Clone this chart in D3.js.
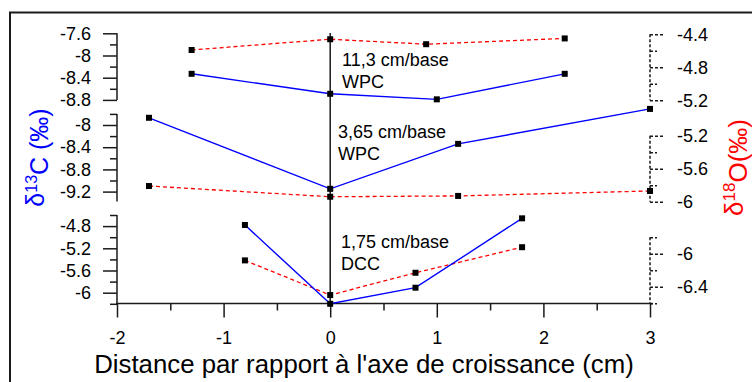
<!DOCTYPE html>
<html><head><meta charset="utf-8">
<script src="https://cdn.jsdelivr.net/npm/d3@7"></script>
<style>body{margin:0;background:#fff}svg{display:block}text{font-family:"Liberation Sans",Arial,sans-serif}</style>
</head><body>
<svg id="c" width="752" height="382"></svg>
<script>
// ---- data ----
const xTicks = [-2, -1, 0, 1, 2, 3];
// panel 1 : 11,3 cm/base WPC
const topXC = [-1.3, 0, 1, 2.2];
const topC  = [-8.33, -8.69, -8.79, -8.33];
const topXO = [-1.3, 0, 0.9, 2.2];
const topO  = [-4.59, -4.46, -4.52, -4.45];
// panel 2 : 3,65 cm/base WPC
const midX  = [-1.7, 0, 1.2, 3];
const midC  = [-7.87, -9.15, -8.34, -7.71];
const midO  = [-5.81, -5.94, -5.93, -5.87];
// panel 3 : 1,75 cm/base DCC
const botX  = [-0.8, 0, 0.8, 1.8];
const botC  = [-4.78, -6.2, -5.91, -4.66];
const botO  = [-6.08, -6.50, -6.23, -5.92];
// axis ticks
const topCMajor = [-7.6, -8, -8.4, -8.8], topCMinor = [-7.8, -8.2, -8.6];
const midCMajor = [-8, -8.4, -8.8, -9.2], midCMinor = [-7.8, -8.2, -8.6, -9.0];
const botCMajor = [-4.8, -5.2, -5.6, -6], botCMinor = [-4.6, -5.0, -5.4, -5.8, -6.2];
const topOMajor = [-4.4, -4.8, -5.2], topOMinor = [-4.6, -5.0];
const midOMajor = [-5.2, -5.6, -6], midOMinor = [-5.4, -5.8];
const botOMajor = [-6, -6.4], botOMinor = [-5.8, -6.2, -6.6];
const labels = [["11,3 cm/base", "WPC"], ["3,65 cm/base", "WPC"], ["1,75 cm/base", "DCC"]];

const svg = d3.select("#c");
const X0 = 117, X1 = 650, AXY = 303.5;
const x = d3.scaleLinear().domain([-2, 3]).range([X0, X1]);
const CU = 55.5, OU = 82.5; // px per permil
function cScale(top, topPx){ return d3.scaleLinear().domain([top, top - 1]).range([topPx, topPx + CU]); }
function oScale(top, topPx){ return d3.scaleLinear().domain([top, top - 1]).range([topPx, topPx + OU]); }
const panels = [
  {c: cScale(-7.6, 33.3), o: oScale(-4.4, 34.3), cRange:[-7.6,-8.8], oRange:[-4.4,-5.2],
   cMaj: topCMajor, cMin: topCMinor, oMaj: topOMajor, oMin: topOMinor,
   xc: topXC, vc: topC, xo: topXO, vo: topO, lab: labels[0], lx: 342, ly: 66},
  {c: cScale(-8, 125), o: oScale(-5.2, 135.7), cRange:[-7.8,-9.38], oRange:[-5.2,-6.0],
   cMaj: midCMajor, cMin: midCMinor, oMaj: midOMajor, oMin: midOMinor,
   xc: midX, vc: midC, xo: midX, vo: midO, lab: labels[1], lx: 338, ly: 138},
  {c: cScale(-4.6, 215), o: oScale(-5.8, 237.3), cRange:[-4.6,-6.2], oRange:[-5.8,-6.6],
   cMaj: botCMajor, cMin: botCMinor, oMaj: botOMajor, oMin: botOMinor,
   xc: botX, vc: botC, xo: botX, vo: botO, lab: labels[2], lx: 341, ly: 248}
];
const fmt = d => String(+(+d).toFixed(1));
const ink = "#1a1a1a";

// frame
svg.append("rect").attr("x", 10).attr("y", 12.5).attr("width", 800).attr("height", 500)
  .attr("fill", "none").attr("stroke", ink).attr("stroke-width", 2);

function styleAxis(g, dashed){
  g.selectAll("path").remove();
  g.selectAll("line").attr("stroke", ink).attr("stroke-width", 1.5)
    .attr("stroke-dasharray", dashed ? "3,2" : null);
  g.selectAll("text").attr("fill", "#000").style("font-size", "18px")
    .style("font-family", '"Liberation Sans",Arial,sans-serif');
}

panels.forEach(p => {
  // left axis
  const gl = svg.append("g").attr("transform", `translate(${X0},0)`);
  gl.append("line").attr("y1", p.c(p.cRange[0])).attr("y2", p.c(p.cRange[1]))
    .attr("stroke", ink).attr("stroke-width", 1.5);
  const lmaj = gl.append("g").call(d3.axisLeft(p.c).tickValues(p.cMaj).tickSize(14).tickPadding(12).tickFormat(fmt));
  styleAxis(lmaj, false);
  const lmin = gl.append("g").call(d3.axisLeft(p.c).tickValues(p.cMin).tickSize(7).tickFormat(""));
  styleAxis(lmin, false);
  // right axis (dashed)
  const gr = svg.append("g").attr("transform", `translate(${X1},0)`);
  gr.append("line").attr("y1", p.o(p.oRange[0])).attr("y2", p.o(p.oRange[1]))
    .attr("stroke", ink).attr("stroke-width", 1.5).attr("stroke-dasharray", "3,2");
  const rmaj = gr.append("g").call(d3.axisRight(p.o).tickValues(p.oMaj).tickSize(13).tickPadding(14).tickFormat(fmt));
  styleAxis(rmaj, true);
  const rmin = gr.append("g").call(d3.axisRight(p.o).tickValues(p.oMin).tickSize(7).tickFormat(""));
  styleAxis(rmin, true);
});

// x axis
const gx = svg.append("g").attr("transform", `translate(0,${AXY})`);
gx.append("line").attr("x1", X0 - 1).attr("x2", X1 + 3).attr("stroke", ink).attr("stroke-width", 1.5);
const xmaj = gx.append("g").call(d3.axisBottom(x).tickValues(xTicks).tickSize(14).tickPadding(14).tickFormat(fmt));
styleAxis(xmaj, false);
const xmin = gx.append("g").call(d3.axisBottom(x).tickValues(d3.range(-1.5, 3, 1)).tickSize(7).tickFormat(""));
styleAxis(xmin, false);

// vertical line at x = 0
svg.append("line").attr("x1", x(0)).attr("x2", x(0)).attr("y1", 33).attr("y2", AXY)
  .attr("stroke", ink).attr("stroke-width", 1.5);

// series
panels.forEach(p => {
  const dc = p.xc.map((v, i) => [v, p.vc[i]]);
  const dO = p.xo.map((v, i) => [v, p.vo[i]]);
  svg.append("path").datum(dO).attr("fill", "none").attr("stroke", "#ff0000").attr("stroke-width", 1.3)
    .attr("stroke-dasharray", "4,3").attr("d", d3.line().x(d => x(d[0])).y(d => p.o(d[1])));
  svg.append("path").datum(dc).attr("fill", "none").attr("stroke", "#0000ff").attr("stroke-width", 1.4)
    .attr("d", d3.line().x(d => x(d[0])).y(d => p.c(d[1])));
  svg.selectAll(null).data(dO).enter().append("rect")
    .attr("x", d => x(d[0]) - 3).attr("y", d => p.o(d[1]) - 3).attr("width", 6).attr("height", 6).attr("fill", "#000");
  svg.selectAll(null).data(dc).enter().append("rect")
    .attr("x", d => x(d[0]) - 3).attr("y", d => p.c(d[1]) - 3).attr("width", 6).attr("height", 6).attr("fill", "#000");
  p.lab.forEach((t, i) => {
    svg.append("text").attr("x", p.lx).attr("y", p.ly + i * 21.5).text(t)
      .style("font-size", "18px").attr("fill", "#000");
  });
});

// axis titles
svg.append("text").attr("x", (95 + 633) / 2).attr("y", 373).attr("text-anchor", "middle")
  .style("font-size", "25.8px").attr("fill", "#000").text("Distance par rapport à l'axe de croissance (cm)");

const lt = svg.append("text").attr("transform", "translate(44,157.5) rotate(-90)").attr("text-anchor", "middle")
  .style("font-size", "25px").attr("fill", "#0000ff");
lt.append("tspan").text("δ");
lt.append("tspan").attr("dy", "-0.45em").style("font-size", "16px").text("13");
lt.append("tspan").attr("dy", "0.45em").text("C (‰)");

const rt = svg.append("text").attr("transform", "translate(743,167.5) rotate(-90)").attr("text-anchor", "middle")
  .style("font-size", "26px").attr("fill", "#ff0000");
rt.append("tspan").text("δ");
rt.append("tspan").attr("dy", "-0.45em").style("font-size", "17px").text("18");
rt.append("tspan").attr("dy", "0.45em").text("O(‰)");
</script>
</body></html>
